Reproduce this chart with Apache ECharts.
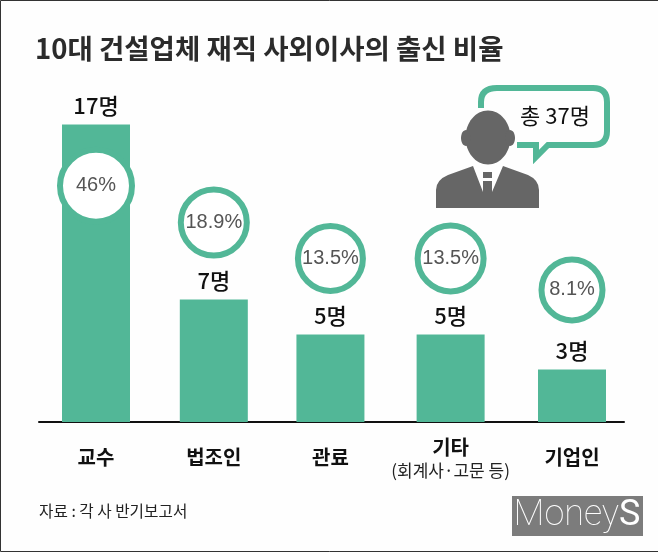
<!DOCTYPE html>
<html>
<head>
<meta charset="utf-8">
<title>10대 건설업체 재직 사외이사의 출신 비율</title>
<style>
  html, body { margin: 0; padding: 0; background: #fff; }
  #chart { width: 658px; height: 552px; }
</style>
</head>
<body>
<div id="chart"></div>
<script src="https://cdn.jsdelivr.net/npm/echarts@6/dist/echarts.min.js"></script>
<script>
const categories = ['교수', '법조인', '관료', '기타', '기업인'];
const categoryNotes = ['', '', '', '(회계사·고문 등)', ''];
const people = [17, 7, 5, 5, 3];
const shares = ['46%', '18.9%', '13.5%', '13.5%', '8.1%'];

// the source does not space its columns evenly, so x is a value axis
const slots = [0, 0.99, 1.97, 2.98, 4];
const badgeLevels = [13.5, 11.4, 9.35, 9.35, 7.55];
const badgeSizes = [72, 66, 65, 66, 61];

const KR = '"Noto Sans CJK KR", sans-serif';
const GREEN = '#52b797';
const GREY = '#666666';

let myChart = echarts.init(document.getElementById('chart'));

// bubble and torso are free paths, which only custom series can draw
function renderFigure() {
  return {
    type: 'group',
    children: [
      {
        type: 'path',
        shape: {
          pathData: 'M481 108 V102 Q481 88 497 88 H593 Q607 88 607 102 V131 Q607 145 593 145 H548 L536 157 L536 145 H517',
          x: 481, y: 88, width: 126, height: 69
        },
        layout: 'cover',
        style: { fill: 'none', stroke: GREEN, lineWidth: 6 }
      },
      {
        type: 'path',
        shape: {
          pathData: 'M436 208 V190 Q436 180 448 175 L473 166 L483 192 V181 H492 V192 L503 166 L528 175 Q539 180 539 190 V208 Z',
          x: 436, y: 166, width: 103, height: 42
        },
        layout: 'cover',
        style: { fill: GREY }
      }
    ]
  };
}

let option = {
  backgroundColor: '#fefefe',
  animation: false,
  title: {
    text: '10대 건설업체 재직 사외이사의 출신 비율',
    left: 35,
    top: 35,
    padding: 0,
    textStyle: { fontFamily: KR, fontSize: 27.5, fontWeight: 'bold', color: '#2b2b2b' }
  },
  grid: { left: 39, right: 34, top: 72, height: 350 },
  xAxis: {
    type: 'value',
    min: -0.479,
    max: 4.437,
    splitLine: { show: false },
    axisTick: { show: false },
    axisLine: { show: true, onZero: false, lineStyle: { color: '#111', width: 2 } },
    axisLabel: {
      customValues: slots,
      margin: 13,
      hideOverlap: false,
      verticalAlign: 'top',
      formatter: function (value) {
        let i = slots.indexOf(value);
        if (categoryNotes[i]) {
          return '{top|' + categories[i] + '}\n{note|' + categoryNotes[i] + '}';
        }
        return '{single|' + categories[i] + '}';
      },
      rich: {
        single: { fontFamily: KR, fontSize: 20, fontWeight: 'bold', color: '#111', lineHeight: 44 },
        top: { fontFamily: KR, fontSize: 20, fontWeight: 'bold', color: '#111', lineHeight: 24 },
        note: { fontFamily: KR, fontSize: 17, color: '#222', lineHeight: 24 }
      }
    }
  },
  yAxis: { type: 'value', min: 0, max: 20, show: false },
  series: [
    {
      type: 'bar',
      barWidth: 68,
      itemStyle: { color: GREEN },
      label: {
        show: true,
        position: 'top',
        distance: 8,
        fontFamily: KR,
        fontSize: 22,
        fontWeight: 500,
        color: '#111',
        formatter: function (p) { return p.value[1] + '명'; }
      },
      data: people.map(function (v, i) { return [slots[i], v]; })
    },
    {
      type: 'scatter',
      z: 5,
      symbol: 'circle',
      symbolSize: function (v, p) { return badgeSizes[p.dataIndex]; },
      itemStyle: { color: '#fff', borderColor: GREEN, borderWidth: 6, opacity: 1 },
      label: {
        show: true,
        position: 'inside',
        fontFamily: '"Liberation Sans", sans-serif',
        fontSize: 20,
        color: '#555',
        formatter: function (p) { return shares[p.dataIndex]; }
      },
      data: badgeLevels.map(function (v, i) { return [slots[i], v]; })
    },
    {
      type: 'custom',
      coordinateSystem: 'none',
      silent: true,
      data: [0],
      renderItem: renderFigure
    }
  ],
  graphic: [
    {
      type: 'text',
      x: 555, y: 116,
      style: { text: '총 37명', fontFamily: KR, fontSize: 22, fill: '#111', align: 'center', verticalAlign: 'middle' }
    },
    // person
    { type: 'ellipse', shape: { cx: 488, cy: 137.5, rx: 22.5, ry: 27 }, style: { fill: GREY } },
    { type: 'ellipse', shape: { cx: 466, cy: 138, rx: 5, ry: 8 }, style: { fill: GREY } },
    { type: 'ellipse', shape: { cx: 510, cy: 138, rx: 5, ry: 8 }, style: { fill: GREY } },
    { type: 'rect', shape: { x: 483, y: 172, width: 9, height: 6 }, style: { fill: GREY } },
    // source and logo
    {
      type: 'text',
      x: 39, y: 511,
      style: { text: '자료 : 각 사 반기보고서', fontFamily: KR, fontSize: 15.7, fill: '#222', verticalAlign: 'middle' }
    },
    { type: 'rect', shape: { x: 512, y: 496, width: 131, height: 40 }, style: { fill: '#7c7c7c' } },
    {
      type: 'text',
      x: 577, y: 516,
      style: {
        text: '{a|Money}{b|S}',
        align: 'center',
        verticalAlign: 'middle',
        rich: {
          a: { fontFamily: 'Roboto', fontWeight: 100, fontSize: 36, fill: '#fff' },
          b: { fontFamily: 'Roboto', fontWeight: 400, fontSize: 36, fill: '#fff' }
        }
      }
    },
    // picture frame, open on the right like the source
    { type: 'polyline', shape: { points: [[658, 0.5], [0.5, 0.5], [0.5, 551.5], [658, 551.5]] }, style: { fill: 'none', stroke: '#333', lineWidth: 1 } }
  ]
};

option && myChart.setOption(option);
</script>
</body>
</html>
